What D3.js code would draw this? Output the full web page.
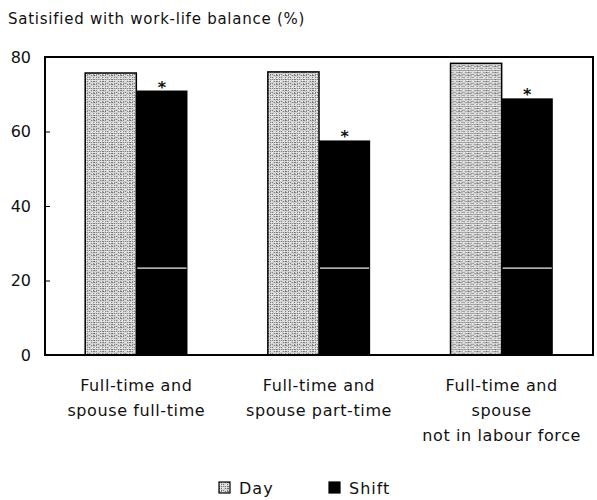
<!DOCTYPE html>
<html>
<head>
<meta charset="utf-8">
<script src="https://cdn.jsdelivr.net/npm/d3@7"></script>
<style>
    body {margin: 0; background: #fff;}
    text {font-family: "DejaVu Sans", sans-serif; fill: #111;}
</style>
</head>
<body>
<svg id="chart" width="597" height="500"></svg>
<script>
// chart values
let categories = [
    ['Full-time and', 'spouse full-time'],
    ['Full-time and', 'spouse part-time'],
    ['Full-time and', 'spouse', 'not in labour force']
];
let seriesNames = ['Day', 'Shift'];
let dayValues = [75.7, 76.0, 78.3];
let shiftValues = [71.0, 57.6, 68.9];
let shiftSignificant = [true, true, true];
let yTicks = [0, 20, 40, 60, 80];
let titleText = 'Satisified with work-life balance (%)';
let scanLineAt = 23.3; // white streak across the shift bars in the scan

let graphicopt = {
    margin: {top: 57, right: 4, bottom: 145, left: 45},
    width: 597,
    height: 500,
    widthG: function(){return this.width-this.margin.left-this.margin.right},
    heightG: function(){return this.height-this.margin.top-this.margin.bottom}
};

let svg = d3.select('#chart');

// stippled grey fill for the Day bars
let defs = svg.append('defs');
let pat = defs.append('pattern')
    .attr('id','stipple')
    .attr('patternUnits','userSpaceOnUse')
    .attr('width',9).attr('height',9);
pat.append('rect').attr('width',9).attr('height',9).attr('fill','#d2d2d2');
for (let i = 0; i < 9; i++) {
    for (let j = 0; j < 9; j++) {
        let k = (i*5 + j*7 + i*j) % 6;
        if (k === 0 || k === 4)
            pat.append('rect').attr('x',i).attr('y',j).attr('width',1).attr('height',1).attr('fill','#777');
        else if (k === 3)
            pat.append('rect').attr('x',i).attr('y',j).attr('width',1).attr('height',1).attr('fill','#f6f6f6');
    }
}

let g = svg.append('g')
    .attr('transform','translate('+graphicopt.margin.left+','+graphicopt.margin.top+')');

let rows = categories.map((c,i)=>({key: i, label: c, Day: dayValues[i], Shift: shiftValues[i], sig: shiftSignificant[i]}));

let x0 = d3.scaleBand()
    .domain(rows.map(d=>d.key))
    .range([0, graphicopt.widthG()])
    .paddingInner(0.44)
    .paddingOuter(0.22);
let x1 = d3.scaleBand()
    .domain(seriesNames)
    .range([0, x0.bandwidth()]);
let y = d3.scaleLinear()
    .domain([0, 80])
    .range([graphicopt.heightG(), 0]);

// bars
let groups = g.selectAll('.grp').data(rows)
    .enter().append('g')
    .attr('class','grp')
    .attr('transform',d=>'translate('+x0(d.key)+',0)');

groups.append('rect')
    .attr('x',x1('Day'))
    .attr('y',d=>y(d.Day))
    .attr('width',x1.bandwidth())
    .attr('height',d=>y(0)-y(d.Day))
    .attr('fill','url(#stipple)')
    .attr('stroke','#000')
    .attr('stroke-width',1.5);

groups.append('rect')
    .attr('x',x1('Shift'))
    .attr('y',d=>y(d.Shift))
    .attr('width',x1.bandwidth())
    .attr('height',d=>y(0)-y(d.Shift))
    .attr('fill','#000');

groups.append('line')
    .attr('x1',x1('Shift')+1)
    .attr('x2',x1('Shift')+x1.bandwidth()-1)
    .attr('y1',y(scanLineAt))
    .attr('y2',y(scanLineAt))
    .attr('stroke','#eee')
    .attr('stroke-width',1.2);

groups.filter(d=>d.sig).append('text')
    .attr('x',x1('Shift')+x1.bandwidth()/2)
    .attr('y',d=>y(d.Shift)+2)
    .attr('text-anchor','middle')
    .style('font-size','16px')
    .style('font-weight','bold')
    .text('*');

// frame around plot
g.append('rect')
    .attr('width',graphicopt.widthG())
    .attr('height',graphicopt.heightG())
    .attr('fill','none')
    .attr('stroke','#000')
    .attr('stroke-width',2);

// y axis, ticks pointing inwards
let yAxis = g.append('g')
    .call(d3.axisLeft(y).tickValues(yTicks).tickSize(-5).tickPadding(14));
yAxis.select('.domain').remove();
yAxis.selectAll('text')
    .style('font-size','16px')
    .style('font-family','"DejaVu Sans", sans-serif');

// category labels
let labels = g.selectAll('.catlabel').data(rows)
    .enter().append('text')
    .attr('class','catlabel')
    .attr('text-anchor','middle')
    .attr('x',d=>x0(d.key)+x0.bandwidth()/2)
    .attr('y',graphicopt.heightG()+36)
    .style('font-size','16px')
    .style('letter-spacing','0.6px');
labels.selectAll('tspan').data(d=>d.label)
    .enter().append('tspan')
    .attr('x',function(){return d3.select(this.parentNode).attr('x')})
    .attr('dy',(d,i)=>i ? 25 : 0)
    .text(d=>d);

// title
svg.append('text')
    .attr('x',8)
    .attr('y',24)
    .style('font-size','15px')
    .style('letter-spacing','0.75px')
    .text(titleText);

// legend
let legend = svg.append('g').attr('transform','translate(219,482)');
let legendItems = legend.selectAll('.leg').data(seriesNames)
    .enter().append('g')
    .attr('class','leg')
    .attr('transform',(d,i)=>'translate('+(i*110)+',0)');
legendItems.append('rect')
    .attr('width',11).attr('height',11)
    .attr('fill',d=>d==='Day' ? 'url(#stipple)' : '#000')
    .attr('stroke','#000')
    .attr('stroke-width',1.2);
legendItems.append('text')
    .attr('x',20)
    .attr('y',12)
    .style('font-size','16px')
    .style('letter-spacing','1px')
    .text(d=>d);
</script>
</body>
</html>
